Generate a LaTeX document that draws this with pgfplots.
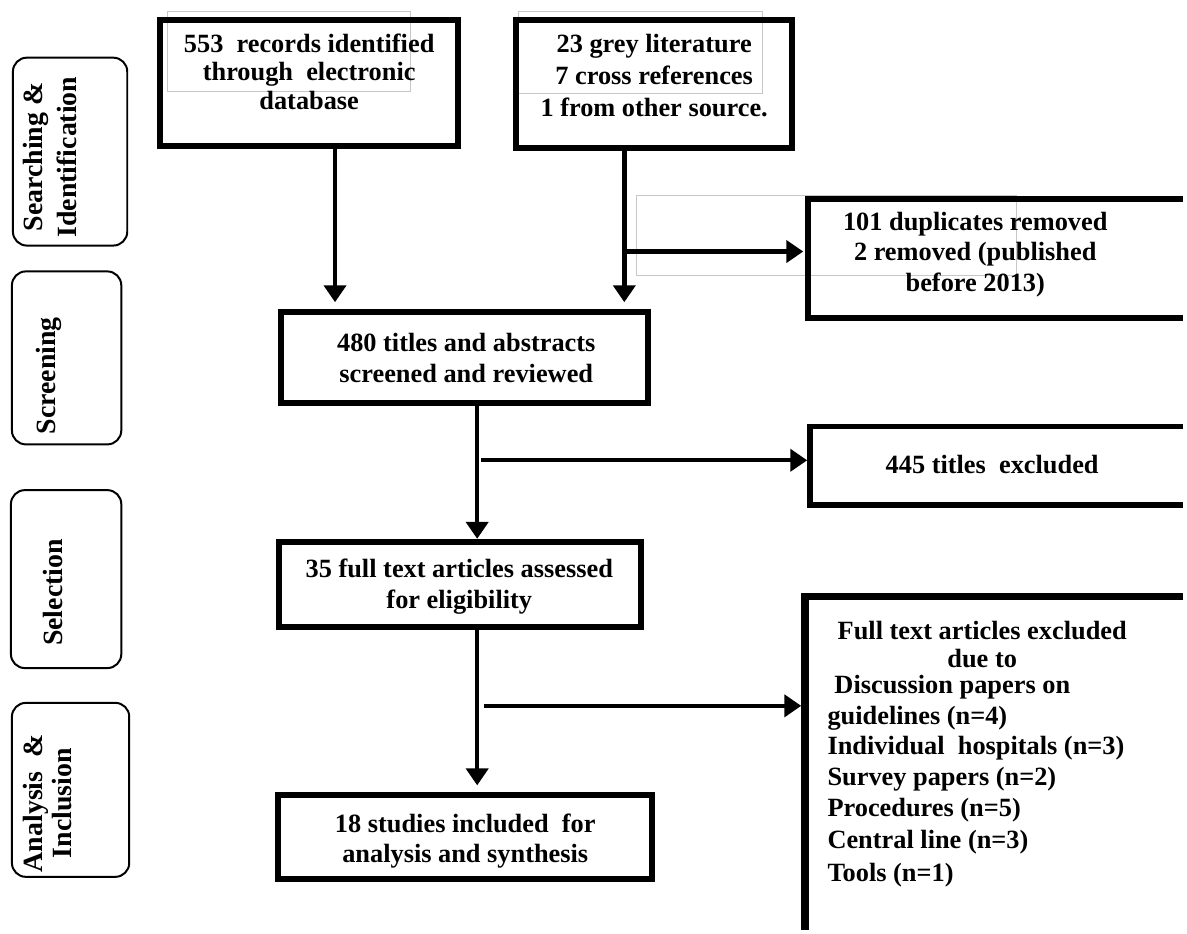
\documentclass[border=0pt]{standalone}
\usepackage{pgfplots}
\pgfplotsset{compat=1.18}
\usepackage{fontspec}
\setmainfont{Liberation Serif}
\usetikzlibrary{arrows.meta}
\begin{document}
\begin{tikzpicture}[
  box/.style={draw=black, line width=3pt},
  gbox/.style={draw=black!22, line width=0.5pt},
  side/.style={draw=black, line width=1pt, rounded corners=7pt},
  arr/.style={line width=2.2pt, -{Triangle[width=11pt,length=8.5pt]}},
  txt/.style={inner sep=0pt, align=center, font=\bfseries\fontsize{13.25}{15.5}\selectfont},
]
\begin{axis}[
  scale only axis, width=593.5pt, height=466pt,
  xmin=0, xmax=1187, ymin=0, ymax=932, y dir=reverse,
  hide axis, clip=false,
]
% bounding area
\path (axis cs:0,0) rectangle (axis cs:1187,932);

% faint text-frame artefacts
\draw[gbox] (axis cs:168,12) rectangle (axis cs:413,92);
\draw[gbox] (axis cs:522,12) rectangle (axis cs:767,94);
\draw[gbox] (axis cs:640,197) rectangle (axis cs:1022,277);

% side stage labels
\draw[side] (axis cs:13,58) rectangle (axis cs:128,247);
\node[txt, rotate=90, font=\bfseries\fontsize{14}{17}\selectfont] at (axis cs:50,158) {Searching \&\\Identification};
\draw[side] (axis cs:12,273) rectangle (axis cs:122,447);
\node[txt, rotate=90, font=\bfseries\fontsize{14}{17}\selectfont] at (axis cs:49,378) {Screening};
\draw[side] (axis cs:11,493) rectangle (axis cs:122,672);
\node[txt, rotate=90, font=\bfseries\fontsize{14}{17}\selectfont] at (axis cs:53,596) {Selection};
\draw[side] (axis cs:12,707) rectangle (axis cs:130,882);
\node[txt, rotate=90, font=\bfseries\fontsize{14}{14.5}\selectfont] at (axis cs:48,808) {Analysis \ \&\\Inclusion};

% main boxes
\draw[box] (axis cs:161,20) rectangle (axis cs:461,147);
\node[txt, font=\bfseries\fontsize{13.25}{14.25}\selectfont] at (axis cs:311,72) {553\ \ records identified\\through\ \ electronic\\database};

\draw[box] (axis cs:519,20) rectangle (axis cs:797,149);
\node[txt, font=\bfseries\fontsize{13.25}{16}\selectfont] at (axis cs:658,76) {23 grey literature\\7 cross references\\1 from other source.};

\draw[box] (axis cs:1190,200) -- (axis cs:813,200) -- (axis cs:813,320) -- (axis cs:1190,320);
\node[txt] at (axis cs:981,256) {101 duplicates removed\\2 removed (published\\before 2013)};

\draw[box] (axis cs:283,314) rectangle (axis cs:652,405);
\node[txt, font=\bfseries\fontsize{13.25}{16}\selectfont] at (axis cs:469,360) {480 titles and abstracts\\screened and reviewed};

\draw[box] (axis cs:1190,429) -- (axis cs:815,429) -- (axis cs:815,508) -- (axis cs:1190,508);
\node[txt] at (axis cs:998,467) {445 titles\ \ excluded};

\draw[box] (axis cs:281,545) rectangle (axis cs:645,631);
\node[txt, font=\bfseries\fontsize{13.25}{16}\selectfont] at (axis cs:462,590) {35 full text articles assessed\\for eligibility};

\draw[box] (axis cs:280,800) rectangle (axis cs:656,884);
\node[txt, font=\bfseries\fontsize{13.25}{15}\selectfont] at (axis cs:468,846) {18 studies included\ \ for\\analysis and synthesis};

\draw[box, line width=4pt] (axis cs:1190,600) -- (axis cs:810,600) -- (axis cs:810,935);
\node[txt] at (axis cs:988,634) {Full text articles excluded};
\node[txt] at (axis cs:988,662) {due to};
\node[txt, anchor=west] at (axis cs:839,691) {Discussion papers on};
\node[txt, anchor=west] at (axis cs:832,722) {guidelines (n=4)};
\node[txt, anchor=west] at (axis cs:832,753) {Individual\ \ hospitals (n=3)};
\node[txt, anchor=west] at (axis cs:832,784) {Survey papers (n=2)};
\node[txt, anchor=west] at (axis cs:832,815) {Procedures (n=5)};
\node[txt, anchor=west] at (axis cs:832,847) {Central line (n=3)};
\node[txt, anchor=west] at (axis cs:832,880) {Tools (n=1)};

% arrows
\draw[arr] (axis cs:337,150) -- (axis cs:337,304);
\draw[arr] (axis cs:628,152) -- (axis cs:628,304);
\draw[arr] (axis cs:628,253) -- (axis cs:808,253);
\draw[arr] (axis cs:480,408) -- (axis cs:480,542);
\draw[arr] (axis cs:484,463) -- (axis cs:812,463);
\draw[arr] (axis cs:480,634) -- (axis cs:480,790);
\draw[arr] (axis cs:487,710) -- (axis cs:806,710);
\end{axis}
\end{tikzpicture}
\end{document}
